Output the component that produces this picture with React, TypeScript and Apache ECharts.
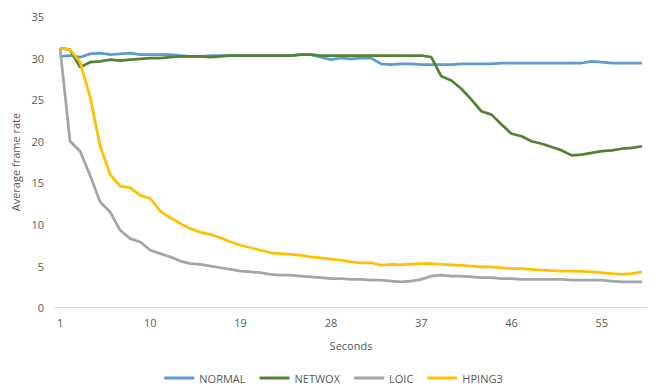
import React, { useEffect, useRef } from "react";
import * as echarts from "echarts";

const seconds: string[] = Array.from({ length: 59 }, (_, i) => String(i + 1));

const normal: number[] = [
  30.2, 30.3, 30.1, 30.5, 30.6, 30.4, 30.5, 30.6, 30.4, 30.4,
  30.4, 30.4, 30.3, 30.2, 30.2, 30.3, 30.3, 30.3, 30.3, 30.3,
  30.3, 30.3, 30.3, 30.3, 30.4, 30.4, 30.1, 29.8, 30.0, 29.9,
  30.0, 30.0, 29.3, 29.2, 29.3, 29.3, 29.2, 29.2, 29.2, 29.2,
  29.3, 29.3, 29.3, 29.3, 29.4, 29.4, 29.4, 29.4, 29.4, 29.4,
  29.4, 29.4, 29.4, 29.6, 29.5, 29.4, 29.4, 29.4, 29.4,
];

const netwox: number[] = [
  31.2, 31.0, 28.9, 29.5, 29.6, 29.8, 29.7, 29.8, 29.9, 30.0,
  30.0, 30.1, 30.2, 30.2, 30.2, 30.1, 30.2, 30.3, 30.3, 30.3,
  30.3, 30.3, 30.3, 30.3, 30.4, 30.4, 30.3, 30.3, 30.3, 30.3,
  30.3, 30.3, 30.3, 30.3, 30.3, 30.3, 30.3, 30.1, 27.8, 27.3,
  26.3, 25.0, 23.6, 23.2, 22.0, 20.9, 20.6, 20.0, 19.7, 19.3,
  18.9, 18.3, 18.4, 18.6, 18.8, 18.9, 19.1, 19.2, 19.4,
];

const loic: number[] = [
  31.2, 20.0, 18.8, 15.9, 12.7, 11.5, 9.3, 8.3, 7.9, 6.9,
  6.5, 6.1, 5.6, 5.3, 5.2, 5.0, 4.8, 4.6, 4.4, 4.3,
  4.2, 4.0, 3.9, 3.9, 3.8, 3.7, 3.6, 3.5, 3.5, 3.4,
  3.4, 3.3, 3.3, 3.2, 3.1, 3.2, 3.4, 3.8, 3.9, 3.8,
  3.8, 3.7, 3.6, 3.6, 3.5, 3.5, 3.4, 3.4, 3.4, 3.4,
  3.4, 3.3, 3.3, 3.3, 3.3, 3.2, 3.1, 3.1, 3.1,
];

const hping3: number[] = [
  31.2, 31.0, 29.5, 25.3, 19.4, 16.0, 14.6, 14.4, 13.5, 13.1,
  11.6, 10.8, 10.1, 9.5, 9.05, 8.8, 8.4, 7.9, 7.5, 7.2,
  6.9, 6.6, 6.5, 6.4, 6.3, 6.1, 6.0, 5.85, 5.7, 5.5,
  5.4, 5.4, 5.1, 5.2, 5.15, 5.25, 5.3, 5.3, 5.2, 5.15,
  5.1, 5.0, 4.9, 4.9, 4.8, 4.7, 4.7, 4.6, 4.5, 4.45,
  4.4, 4.4, 4.35, 4.3, 4.2, 4.1, 4.0, 4.1, 4.3,
];

const seriesNames = ["NORMAL", "NETWOX", "LOIC", "HPING3"];
const seriesColors = ["#5B9BD5", "#548235", "#A5A5A5", "#FFC000"];
const seriesData = [normal, netwox, loic, hping3];

const FONT = "'Open Sans', 'Noto Sans', sans-serif";
const TEXT = "#595959";

export default function App() {
  const ref = useRef<HTMLDivElement>(null);
  useEffect(() => {
    if (!ref.current) return;
    const chart = echarts.init(ref.current, undefined, { renderer: "svg" });
    chart.setOption({
      animation: false,
      backgroundColor: "#ffffff",
      textStyle: { fontFamily: FONT },
      grid: { left: 55, right: 20, top: 16.4, bottom: 81.3, containLabel: false },
      legend: {
        data: seriesNames,
        top: 367,
        left: "center",
        icon: "rect",
        itemWidth: 30,
        itemHeight: 3,
        itemGap: 14,
        padding: [5, 5, 0, 5],
        textStyle: { color: TEXT, fontSize: 11, lineHeight: 12, fontFamily: FONT },
      },
      xAxis: {
        type: "category",
        data: seconds,
        boundaryGap: true,
        name: "Seconds",
        nameLocation: "middle",
        nameGap: 32,
        nameTextStyle: { color: TEXT, fontSize: 11, fontFamily: FONT },
        axisLine: { show: true, lineStyle: { color: "#D9D9D9", width: 1 } },
        axisTick: { show: false },
        axisLabel: { interval: 8, color: TEXT, fontSize: 11, margin: 9, fontFamily: FONT },
        splitLine: { show: false },
      },
      yAxis: {
        type: "value",
        min: 0,
        max: 35,
        interval: 5,
        name: "Average frame rate",
        nameLocation: "middle",
        nameGap: 32,
        nameTextStyle: { color: TEXT, fontSize: 11, fontFamily: FONT },
        axisLine: { show: false },
        axisTick: { show: false },
        axisLabel: { color: TEXT, fontSize: 11, margin: 11, fontFamily: FONT },
        splitLine: { show: false },
      },
      series: seriesNames.map((name, i) => ({
        name,
        type: "line",
        data: seriesData[i],
        symbol: "none",
        smooth: false,
        color: seriesColors[i],
        lineStyle: { color: seriesColors[i], width: 2.75 },
      })),
    });
    return () => chart.dispose();
  }, []);
  return (
    <div
      ref={ref}
      style={{ position: "fixed", left: 0, top: 0, width: 667, height: 389, background: "#fff" }}
    />
  );
}
